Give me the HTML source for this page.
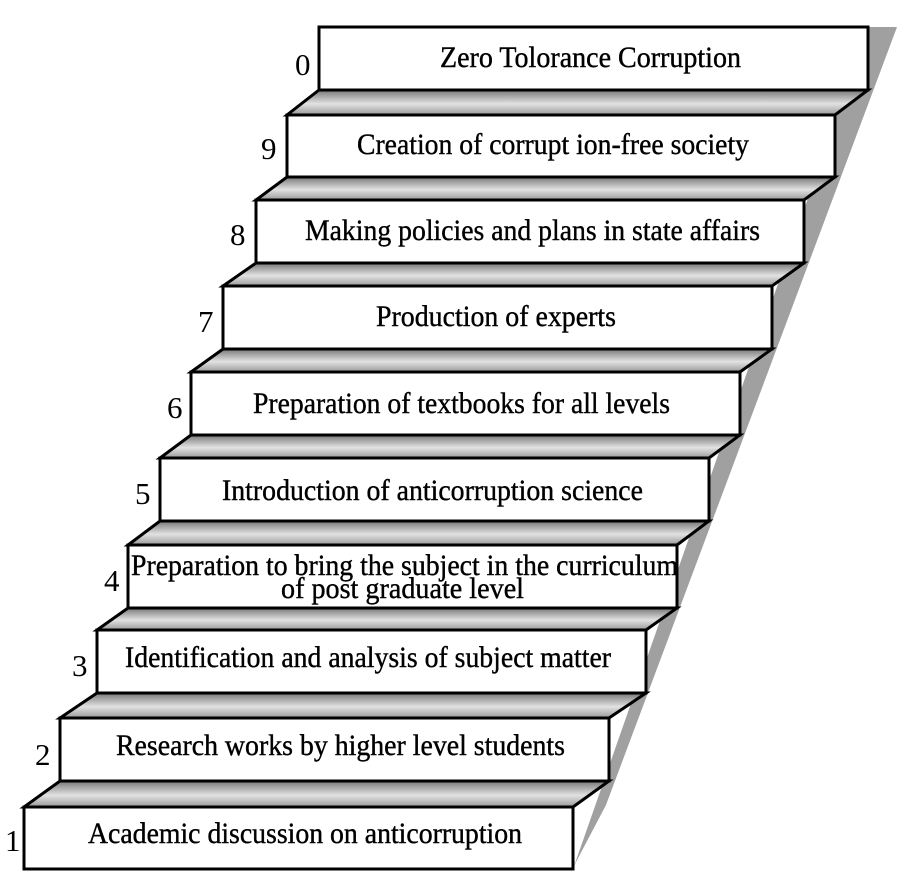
<!DOCTYPE html>
<html><head><meta charset="utf-8"><style>
html,body{margin:0;padding:0;background:#fff;}
svg{display:block;}
text{font-family:"Liberation Serif",serif;fill:#000;}
</style></head><body>
<svg width="900" height="877" viewBox="0 0 900 877" xmlns="http://www.w3.org/2000/svg">
<defs>
<linearGradient id="g" x1="0" y1="0" x2="0" y2="1">
<stop offset="0" stop-color="#777"/><stop offset="0.55" stop-color="#e2e2e2"/><stop offset="1" stop-color="#999"/>
</linearGradient>
</defs>
<polygon points="868,27 897,27 606,805 576,862 573,869" fill="#a0a0a0"/>
<g stroke="#000" stroke-width="3" stroke-linejoin="miter">
<polygon points="319,90 868,90 835,115 287,115" fill="url(#g)"/>
<polygon points="287,177 835,177 804,200 256,200" fill="url(#g)"/>
<polygon points="256,263 804,263 772,286 223,286" fill="url(#g)"/>
<polygon points="223,349 772,349 740,372 191,372" fill="url(#g)"/>
<polygon points="191,435 740,435 709,458 160,458" fill="url(#g)"/>
<polygon points="160,521 709,521 677,545 128,545" fill="url(#g)"/>
<polygon points="128,608 677,608 646,630 97,630" fill="url(#g)"/>
<polygon points="97,693 646,693 609,718 60,718" fill="url(#g)"/>
<polygon points="60,781 609,781 573,807 24,807" fill="url(#g)"/>
<rect x="319" y="27" width="549" height="63" fill="#fff"/>
<rect x="287" y="115" width="548" height="62" fill="#fff"/>
<rect x="256" y="200" width="548" height="63" fill="#fff"/>
<rect x="223" y="286" width="549" height="63" fill="#fff"/>
<rect x="191" y="372" width="549" height="63" fill="#fff"/>
<rect x="160" y="458" width="549" height="63" fill="#fff"/>
<rect x="128" y="545" width="549" height="63" fill="#fff"/>
<rect x="97" y="630" width="549" height="63" fill="#fff"/>
<rect x="60" y="718" width="549" height="63" fill="#fff"/>
<rect x="24" y="807" width="549" height="62" fill="#fff"/>
</g>
<g font-size="30" stroke="#000" stroke-width="0.4">
<text x="440" y="67" textLength="301" lengthAdjust="spacingAndGlyphs">Zero Tolorance Corruption</text>
<text x="357" y="154" textLength="392" lengthAdjust="spacingAndGlyphs">Creation of corrupt ion-free society</text>
<text x="305" y="240" textLength="455" lengthAdjust="spacingAndGlyphs">Making policies and plans in state affairs</text>
<text x="376" y="326" textLength="240" lengthAdjust="spacingAndGlyphs">Production of experts</text>
<text x="253" y="413" textLength="417" lengthAdjust="spacingAndGlyphs">Preparation of textbooks for all levels</text>
<text x="222" y="500" textLength="421" lengthAdjust="spacingAndGlyphs">Introduction of anticorruption science</text>
<text x="131" y="575" textLength="547" lengthAdjust="spacingAndGlyphs">Preparation to bring the subject in the curriculum</text>
<text x="281" y="598" textLength="243" lengthAdjust="spacingAndGlyphs">of post graduate level</text>
<text x="125" y="667" textLength="486" lengthAdjust="spacingAndGlyphs">Identification and analysis of subject matter</text>
<text x="116" y="755" textLength="449" lengthAdjust="spacingAndGlyphs">Research works by higher level students</text>
<text x="88" y="843" textLength="434" lengthAdjust="spacingAndGlyphs">Academic discussion on anticorruption</text>
</g>
<g font-size="31">
<text x="295" y="75">0</text>
<text x="261" y="159">9</text>
<text x="230" y="245">8</text>
<text x="198" y="332">7</text>
<text x="167" y="418">6</text>
<text x="135" y="504">5</text>
<text x="104" y="591">4</text>
<text x="72" y="676">3</text>
<text x="35" y="765">2</text>
<text x="5" y="851">1</text>
</g>
</svg>
</body></html>
